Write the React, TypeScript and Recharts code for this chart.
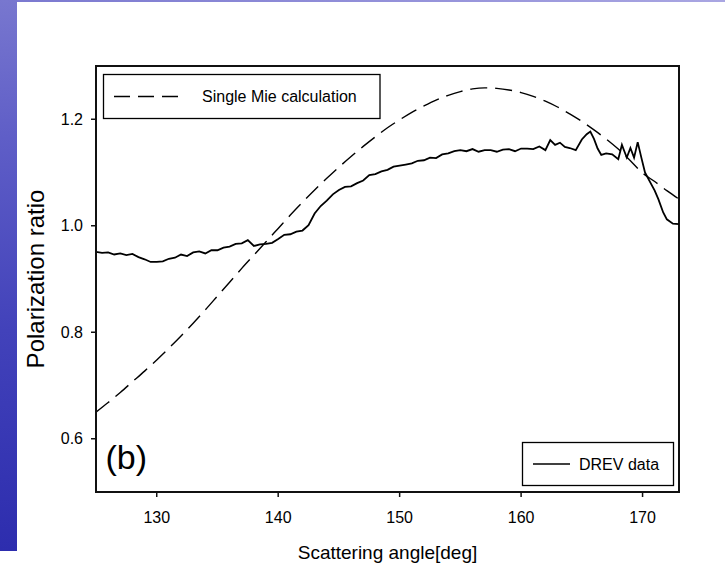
import React from 'react';
import { LineChart, Line, XAxis, YAxis, ReferenceArea } from 'recharts';

// Single Mie calculation (dashed curve)
const mieAngles = [
  125, 126, 127, 128, 129, 130, 131, 132, 133, 134, 135, 136, 137, 138, 139, 140,
  141, 142, 143, 144, 145, 146, 147, 148, 149, 150, 151, 152, 153, 154, 155, 156,
  157, 158, 159, 160, 161, 162, 163, 164, 165, 166, 167, 168, 169, 170, 171, 172, 173,
];
const mieRatios = [
  0.65, 0.668, 0.687, 0.707, 0.727, 0.748, 0.77, 0.793, 0.817, 0.842, 0.868, 0.894, 0.92, 0.945, 0.97, 0.995,
  1.02, 1.044, 1.067, 1.089, 1.11, 1.13, 1.149, 1.167, 1.184, 1.199, 1.213, 1.225, 1.236, 1.245, 1.252, 1.257,
  1.259, 1.258, 1.255, 1.25, 1.243, 1.234, 1.223, 1.21, 1.196, 1.18, 1.163, 1.144, 1.122, 1.099, 1.083, 1.066, 1.05,
];

// DREV data (solid, measured)
const drevAngles = [
  125, 125.5, 126, 126.5, 127, 127.5, 128, 128.5, 129, 129.5, 130, 130.5, 131, 131.5, 132, 132.5,
  133, 133.5, 134, 134.5, 135, 135.5, 136, 136.5, 137, 137.5, 138, 138.5, 139, 139.5, 140, 140.5,
  141, 141.5, 142, 142.5, 143, 143.5, 144, 144.5, 145, 145.5, 146, 146.5, 147, 147.5, 148, 148.5,
  149, 149.5, 150, 150.5, 151, 151.5, 152, 152.5, 153, 153.5, 154, 154.5, 155, 155.5, 156, 156.5,
  157, 157.5, 158, 158.5, 159, 159.5, 160, 160.5, 161, 161.5, 162, 162.4, 162.8, 163.2, 163.6, 164,
  164.5, 165, 165.4, 165.7, 166, 166.3, 166.6, 167, 167.5, 168, 168.3, 168.5, 168.7, 169, 169.3, 169.6,
  169.9, 170.2, 170.6, 171, 171.3, 171.7, 172, 172.5, 173,
];
const drevRatios = [
  0.951, 0.949, 0.95, 0.946, 0.948, 0.945, 0.947, 0.941, 0.937, 0.932, 0.932, 0.933, 0.938, 0.94, 0.946, 0.943,
  0.95, 0.952, 0.948, 0.954, 0.954, 0.959, 0.961, 0.966, 0.967, 0.973, 0.962, 0.965, 0.966, 0.968, 0.975, 0.983,
  0.984, 0.989, 0.991, 1.001, 1.023, 1.037, 1.047, 1.059, 1.067, 1.073, 1.074, 1.08, 1.085, 1.095, 1.097, 1.102,
  1.105, 1.111, 1.113, 1.115, 1.117, 1.122, 1.123, 1.128, 1.127, 1.134, 1.136, 1.14, 1.142, 1.14, 1.144, 1.139,
  1.142, 1.142, 1.139, 1.143, 1.144, 1.14, 1.145, 1.145, 1.144, 1.149, 1.142, 1.161, 1.152, 1.156, 1.148, 1.146,
  1.142, 1.162, 1.172, 1.177, 1.163, 1.145, 1.133, 1.136, 1.134, 1.125, 1.152, 1.14, 1.128, 1.146, 1.128, 1.157,
  1.128, 1.1, 1.083, 1.066, 1.05, 1.025, 1.012, 1.004, 1.003,
];

const xTicks = [130, 140, 150, 160, 170];
const yTicks = [0.6, 0.8, 1.0, 1.2];

const mieData = mieAngles.map((angle, i) => ({ angle, ratio: mieRatios[i] }));
const drevData = drevAngles.map((angle, i) => ({ angle, ratio: drevRatios[i] }));

const FONT = '"Liberation Sans", Arial, sans-serif';

const App = () => {
  return (
    <div style={{ position: 'absolute', left: 0, top: 0, width: 725, height: 564, background: '#fff', overflow: 'hidden', fontFamily: FONT }}>
      {/* slide decoration */}
      <div style={{ position: 'absolute', left: 0, top: 0, width: 17, height: 551, background: 'linear-gradient(to bottom, #7877cf 0%, #5f5ec7 25%, #4242ba 60%, #2d2dae 100%)' }} />
      <div style={{ position: 'absolute', left: 17, top: 0, width: 708, height: 2, background: 'linear-gradient(to right, #7b79d0, #a9a6e2)' }} />

      <div style={{ position: 'absolute', left: 0, top: 0 }}>
        <LineChart width={725} height={564} margin={{ top: 66, right: 46, bottom: 6, left: 16 }}>
          <XAxis
            type="number"
            dataKey="angle"
            domain={[125, 173]}
            ticks={xTicks}
            allowDataOverflow
            height={66}
            tickSize={5}
            tickMargin={15}
            axisLine={{ stroke: '#111', strokeWidth: 2 }}
            tickLine={{ stroke: '#111', strokeWidth: 1.5 }}
            tick={{ fill: '#000', fontSize: 16, fontFamily: FONT }}
            label={{ value: 'Scattering angle[deg]', position: 'insideBottom', offset: -1, fill: '#000', fontSize: 19, fontFamily: FONT }}
          />
          <YAxis
            type="number"
            domain={[0.5, 1.3]}
            ticks={yTicks}
            allowDataOverflow
            width={80}
            tickSize={5}
            tickMargin={8}
            tickFormatter={(v: number) => v.toFixed(1)}
            axisLine={{ stroke: '#111', strokeWidth: 2 }}
            tickLine={{ stroke: '#111', strokeWidth: 1.5 }}
            tick={{ fill: '#000', fontSize: 16, fontFamily: FONT }}
            label={{ value: 'Polarization ratio', angle: -90, position: 'insideLeft', offset: 19.5, fill: '#000', fontSize: 24, fontFamily: FONT, style: { textAnchor: 'middle' } }}
          />
          <ReferenceArea x1={125} x2={173} y1={0.5} y2={1.3} fill="none" stroke="#111" strokeWidth={2} />
          <Line
            data={mieData}
            dataKey="ratio"
            type="monotone"
            stroke="#000"
            strokeWidth={1.4}
            strokeDasharray="17 8"
            dot={false}
            isAnimationActive={false}
          />
          <Line
            data={drevData}
            dataKey="ratio"
            type="linear"
            stroke="#000"
            strokeWidth={1.8}
            dot={false}
            isAnimationActive={false}
          />
        </LineChart>
      </div>

      {/* legends and panel tag */}
      <svg width={725} height={564} style={{ position: 'absolute', left: 0, top: 0, pointerEvents: 'none' }}>
        <rect x={103.5} y={74.5} width={276.5} height={44} fill="#fff" stroke="#000" strokeWidth={1.3} />
        <line x1={114} x2={178} y1={96.5} y2={96.5} stroke="#000" strokeWidth={1.3} strokeDasharray="16 8" />
        <text x={202} y={102} fontSize={16} fontFamily={FONT} fill="#000">Single Mie calculation</text>

        <rect x={522.5} y={442.5} width={151} height={43} fill="#fff" stroke="#000" strokeWidth={1.3} />
        <line x1={533} x2={570} y1={464} y2={464} stroke="#000" strokeWidth={1.3} />
        <text x={579} y={470} fontSize={16} fontFamily={FONT} fill="#000">DREV data</text>

        <text x={105.5} y={469} fontSize={34} fontFamily={FONT} fill="#000">(b)</text>
      </svg>
    </div>
  );
};

export default App;
